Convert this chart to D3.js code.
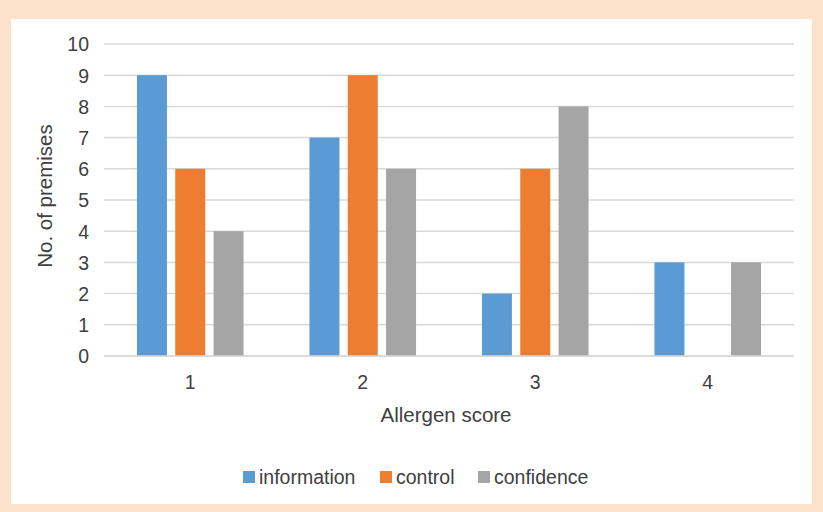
<!DOCTYPE html>
<html><head><meta charset="utf-8">
<script src="https://cdn.jsdelivr.net/npm/d3@7"></script>
<style>body{margin:0;background:#fff}svg{display:block}text{font-family:"Liberation Sans",Arial,sans-serif;fill:#404040}</style>
</head><body>
<svg id="c" width="823" height="512"></svg>
<script>
const categories = ["1","2","3","4"];
const seriesNames = ["information","control","confidence"];
const information = [9,7,2,3];
const control = [6,9,6,0];
const confidence = [4,6,8,3];
const yTicks = [0,1,2,3,4,5,6,7,8,9,10];
const colors = ["#5b9bd5","#ed7d31","#a5a5a5"];
const seriesValues = [information, control, confidence];

const svg = d3.select("#c");
svg.append("rect").attr("x",0).attr("y",0).attr("width",823).attr("height",512).attr("fill","#fde2cb");
svg.append("rect").attr("x",11).attr("y",19).attr("width",801).attr("height",485).attr("fill","#fff");

const pLeft=104, pRight=794, pTop=44, pBottom=356;
const y = d3.scaleLinear().domain([0,10]).range([pBottom,pTop]);
const x0 = d3.scaleBand().domain(categories).range([pLeft,pRight]).padding(0);
const inner = 106.6;
const off = (x0.bandwidth()-inner)/2;
const x1 = d3.scaleBand().domain(seriesNames).range([off, off+inner]).paddingInner(0.217).paddingOuter(0);

// gridlines
svg.append("g").selectAll("line").data(yTicks).join("line")
  .attr("x1",pLeft).attr("x2",pRight)
  .attr("y1",d=>y(d)).attr("y2",d=>y(d))
  .attr("stroke","#d9d9d9").attr("stroke-width",1.5);

// y axis labels
const yAxis = d3.axisLeft(y).tickValues(yTicks).tickSize(0).tickPadding(0);
const yg = svg.append("g").attr("transform",`translate(${89},0)`).call(yAxis);
yg.select(".domain").remove();
yg.selectAll("text").style("font-size","19.5px").style("font-family","Liberation Sans, Arial, sans-serif").attr("fill","#404040").attr("dy","0.35em");

// bars
const rows = categories.map((c,i)=>({cat:c, vals: seriesNames.map((s,j)=>({s, v: seriesValues[j][i], j}))}));
const g = svg.append("g").selectAll("g").data(rows).join("g")
  .attr("transform",d=>`translate(${x0(d.cat)},0)`);
g.selectAll("rect").data(d=>d.vals.filter(e=>e.v>0)).join("rect")
  .attr("x",d=>x1(d.s)).attr("width",x1.bandwidth())
  .attr("y",d=>y(d.v)).attr("height",d=>y(0)-y(d.v))
  .attr("fill",d=>colors[d.j]);

// baseline
svg.append("line").attr("x1",pLeft).attr("x2",pRight).attr("y1",y(0)).attr("y2",y(0)).attr("stroke","#d9d9d9").attr("stroke-width",1.5);

// x axis labels
const xAxis = d3.axisBottom(x0).tickSize(0).tickPadding(0);
const xg = svg.append("g").attr("transform",`translate(0,${382})`).call(xAxis);
xg.select(".domain").remove();
xg.selectAll("text").style("font-size","19.5px").style("font-family","Liberation Sans, Arial, sans-serif").attr("fill","#404040").attr("dy","0.35em");

// axis titles
svg.append("text").attr("x",446).attr("y",422).attr("text-anchor","middle").style("font-size","20.5px").text("Allergen score");
svg.append("text").attr("transform",`translate(52,196) rotate(-90)`).attr("text-anchor","middle").style("font-size","20.5px").text("No. of premises");

// legend
const legX = [243, 380, 478];
const lg = svg.append("g").selectAll("g").data(seriesNames).join("g")
  .attr("transform",(d,i)=>`translate(${legX[i]},471)`);
lg.append("rect").attr("width",12).attr("height",12).attr("fill",(d,i)=>colors[i]);
lg.append("text").attr("x",16).attr("y",6).attr("dy","0.35em").style("font-size","19.5px").text(d=>d);
</script>
</body></html>
